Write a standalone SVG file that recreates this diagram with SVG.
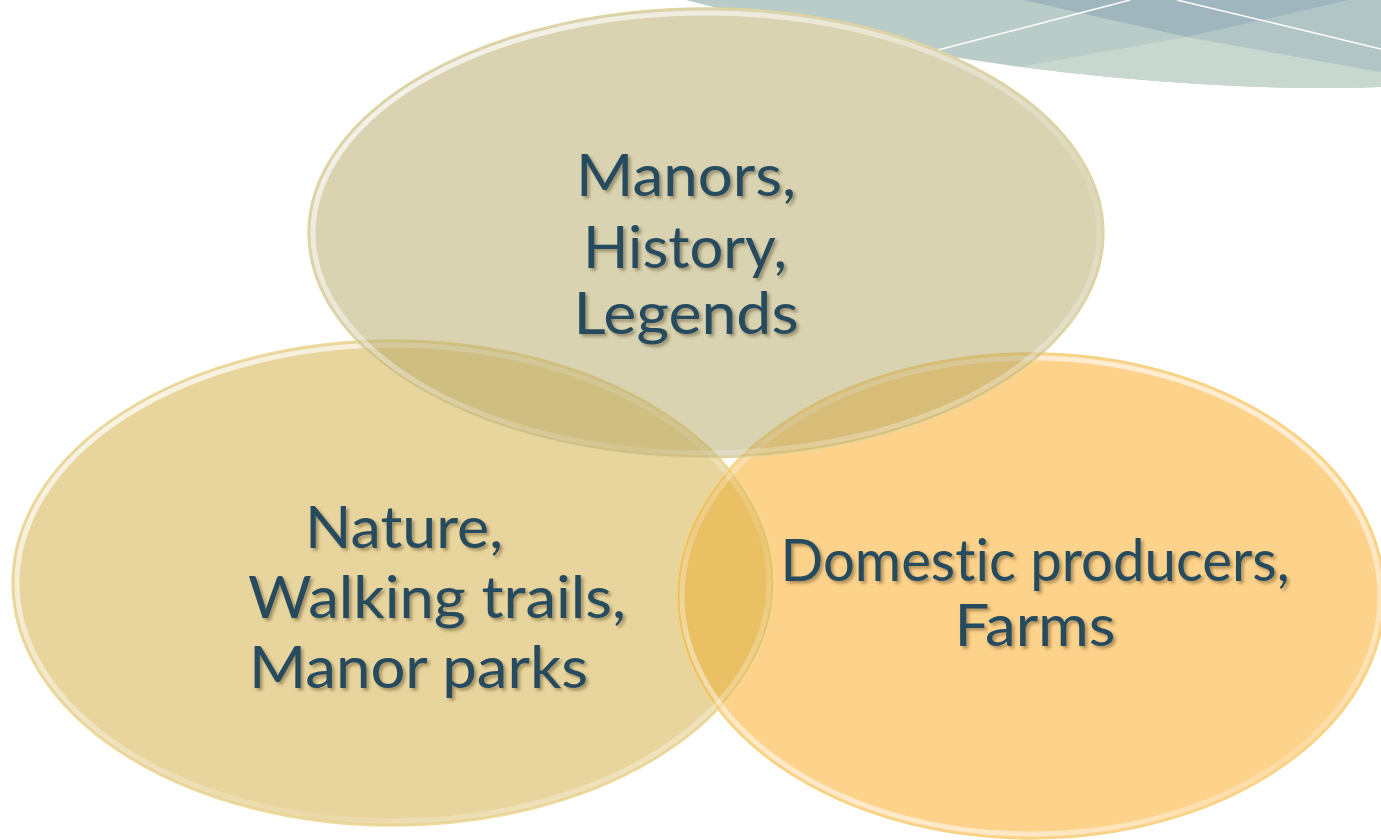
<svg xmlns="http://www.w3.org/2000/svg" width="1381" height="840" viewBox="0 0 1381 840">
  <defs>
    <style>
      .lbl { font-family: Lato, "Open Sans", "Liberation Sans", sans-serif; font-size: 58px; fill: #264b5e; filter: url(#shadow); font-variant-ligatures: none; }
      .rim { fill: none; stroke-width: 5; }
      .edge { fill: none; stroke-width: 1.3; }
    </style>
    <filter id="shadow" x="-10%" y="-30%" width="120%" height="160%">
      <feDropShadow dx="2.5" dy="2.5" stdDeviation="1.5" flood-color="#4a3e1a" flood-opacity="0.45"/>
    </filter>
    <linearGradient id="rimGrad" x1="0" y1="0" x2="1" y2="1">
      <stop offset="0" stop-color="#ffffff" stop-opacity="0.85"/>
      <stop offset="0.45" stop-color="#ffffff" stop-opacity="0.35"/>
      <stop offset="0.7" stop-color="#ffffff" stop-opacity="0.1"/>
      <stop offset="1" stop-color="#ffffff" stop-opacity="0.5"/>
    </linearGradient>
    <linearGradient id="rimGrad2" x1="0" y1="1" x2="0.6" y2="0">
      <stop offset="0" stop-color="#ffffff" stop-opacity="0.7"/>
      <stop offset="0.5" stop-color="#ffffff" stop-opacity="0.2"/>
      <stop offset="1" stop-color="#ffffff" stop-opacity="0.6"/>
    </linearGradient>
    <clipPath id="clipLeft">
      <ellipse cx="393" cy="583" rx="381" ry="243"/>
    </clipPath>
    <clipPath id="clipSwoosh">
      <path d="M 686 0 Q 950 70 1200 84 Q 1300 90 1381 87 L 1381 0 Z"/>
    </clipPath>
  </defs>

  <!-- background decoration -->
  <g id="swoosh" clip-path="url(#clipSwoosh)">
    <rect x="680" y="0" width="701" height="100" fill="#b9ccc8"/>
    <polygon points="1030,65 1187,37 1381,72 1381,100 900,100" fill="#c8d8ce"/>
    <polygon points="1023,0 1350,0 1187,37" fill="#9fb6be"/>
    <polygon points="1350,0 1381,0 1381,72 1187,37" fill="#b1c5c6"/>
    <line x1="938" y1="50" x2="1130" y2="0" stroke="#ffffff" stroke-width="1.5"/>
    <line x1="1177" y1="0" x2="1381" y2="49" stroke="#ffffff" stroke-width="1.5"/>
  </g>

  <!-- white backing for the top ellipse so it hides the swoosh -->
  <ellipse cx="706" cy="233" rx="398" ry="225" fill="#ffffff"/>

  <g id="node-nature">
    <ellipse cx="393" cy="583" rx="381" ry="243" fill="#e8d59e"/>
  </g>
  <g id="node-producers">
    <ellipse cx="1031" cy="596" rx="354" ry="243" fill="#fdd28b"/>
    <ellipse cx="1031" cy="596" rx="354" ry="243" fill="#e9c064" clip-path="url(#clipLeft)"/>
    <ellipse cx="1031" cy="596" rx="349" ry="238" class="rim" stroke="url(#rimGrad2)"/>
    <ellipse cx="1031" cy="596" rx="354" ry="243" class="edge" stroke="#f4d482"/>
  </g>
  <g id="node-nature-rim">
    <ellipse cx="393" cy="583" rx="376" ry="238" class="rim" stroke="url(#rimGrad)"/>
    <ellipse cx="393" cy="583" rx="381" ry="243" class="edge" stroke="#eedb9a"/>
  </g>

  <g id="node-manors">
    <ellipse cx="706" cy="233" rx="398" ry="225" fill="#b3a765" fill-opacity="0.5"/>
    <ellipse cx="706" cy="233" rx="393" ry="220" class="rim" stroke="url(#rimGrad)"/>
    <ellipse cx="706" cy="233" rx="398" ry="225" class="edge" stroke="#e0d49c"/>
  </g>

  <g id="labels">
    <text class="lbl" x="686" y="196" text-anchor="middle" textLength="220" lengthAdjust="spacingAndGlyphs">Manors,</text>
    <text class="lbl" x="685" y="268" text-anchor="middle" textLength="204" lengthAdjust="spacingAndGlyphs">History,</text>
    <text class="lbl" x="686" y="334" text-anchor="middle" textLength="225" lengthAdjust="spacingAndGlyphs">Legends</text>

    <text class="lbl" x="305" y="548" textLength="198" lengthAdjust="spacingAndGlyphs">Nature,</text>
    <text class="lbl" x="248" y="618" textLength="378" lengthAdjust="spacingAndGlyphs">Walking trails,</text>
    <text class="lbl" x="249" y="688" textLength="339" lengthAdjust="spacingAndGlyphs">Manor parks</text>

    <text class="lbl" x="1035" y="581" text-anchor="middle" textLength="509" lengthAdjust="spacingAndGlyphs">Domestic producers,</text>
    <text class="lbl" x="1035" y="646" text-anchor="middle" textLength="161" lengthAdjust="spacingAndGlyphs">Farms</text>
  </g>
</svg>
